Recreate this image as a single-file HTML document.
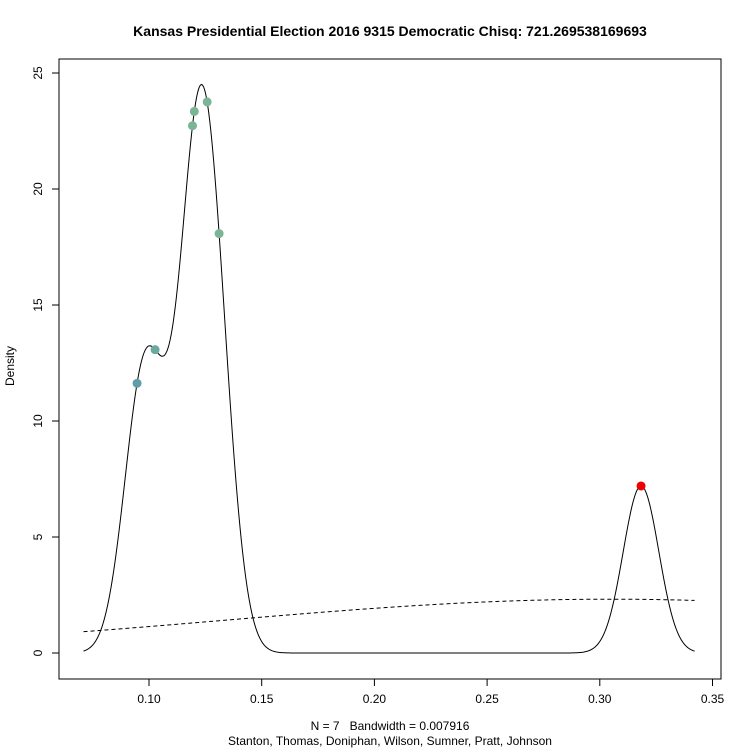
<!DOCTYPE html>
<html><head><meta charset="utf-8"><style>
body{margin:0;background:#fff}
svg text{font-family:"Liberation Sans",Arial,sans-serif;fill:#000}
</style></head><body>
<svg id="c" width="750" height="750" xmlns="http://www.w3.org/2000/svg">
<text x="390" y="36" text-anchor="middle" font-size="14" font-weight="bold">Kansas Presidential Election 2016 9315 Democratic Chisq: 721.269538169693</text>
<rect x="59" y="59" width="662" height="620" fill="none" stroke="#000"/>
<text x="390" y="730" text-anchor="middle" font-size="12" xml:space="preserve">N = 7   Bandwidth = 0.007916</text>
<text x="390" y="745" text-anchor="middle" font-size="12">Stanton, Thomas, Doniphan, Wilson, Sumner, Pratt, Johnson</text>
<text x="0" y="0" transform="translate(14,366) rotate(-90)" text-anchor="middle" font-size="12">Density</text>
<g id="g"></g>
</svg>
<script>
const values=[0.0947,0.1027,0.1193,0.1201,0.1258,0.1311,0.3183];
const colors=["#5e9ea6","#6aa9a0","#7bb596","#7bb596","#7bb596","#7bb596","#ee0000"];
const bw=0.007916;
const xTicks=[0.10,0.15,0.20,0.25,0.30,0.35];
const yTicks=[0,5,10,15,20,25];
const refMean=0.305, refSd=0.172;
const X=v=>149+(v-0.10)*2254, Y=v=>653-v*23.2;
const ns="http://www.w3.org/2000/svg", g=document.getElementById('g');
function mk(t,a){const e=document.createElementNS(ns,t);for(const k in a)e.setAttribute(k,a[k]);g.appendChild(e);return e;}
const dn=(x,m,s)=>Math.exp(-0.5*((x-m)/s)**2)/(s*Math.sqrt(2*Math.PI));
const kde=x=>values.reduce((a,v)=>a+dn(x,v,bw),0)/values.length;
const lo=Math.min(...values)-3*bw, hi=Math.max(...values)+3*bw;
let d="",d2="";
for(let i=0;i<=600;i++){const x=lo+(hi-lo)*i/600;d+=(i?"L":"M")+X(x).toFixed(2)+","+Y(kde(x)).toFixed(2);d2+=(i?"L":"M")+X(x).toFixed(2)+","+Y(dn(x,refMean,refSd)).toFixed(2);}
let e=mk('path',{d:d,fill:"none",stroke:"#000","stroke-width":1});

e=mk('path',{d:d2,fill:"none",stroke:"#000","stroke-width":1,"stroke-dasharray":"4,3"});

values.forEach((v,i)=>{const c=mk('circle',{cx:X(v),cy:Y(kde(v)),r:4.5,fill:colors[i]});
});
mk('line',{x1:X(xTicks[0]),x2:X(xTicks[xTicks.length-1]),y1:679,y2:679,stroke:"#000"});
xTicks.forEach(t=>{mk('line',{x1:X(t),x2:X(t),y1:679,y2:686,stroke:"#000"});
const l=mk('text',{x:X(t),y:703,"text-anchor":"middle","font-size":12});l.textContent=t.toFixed(2);
});
mk('line',{x1:59,x2:59,y1:Y(0),y2:Y(25),stroke:"#000"});
yTicks.forEach(t=>{mk('line',{x1:52,x2:59,y1:Y(t),y2:Y(t),stroke:"#000"});
const l=mk('text',{x:0,y:0,transform:`translate(42,${Y(t)}) rotate(-90)`,"text-anchor":"middle","font-size":12});l.textContent=t;
});
</script>
</body></html>
